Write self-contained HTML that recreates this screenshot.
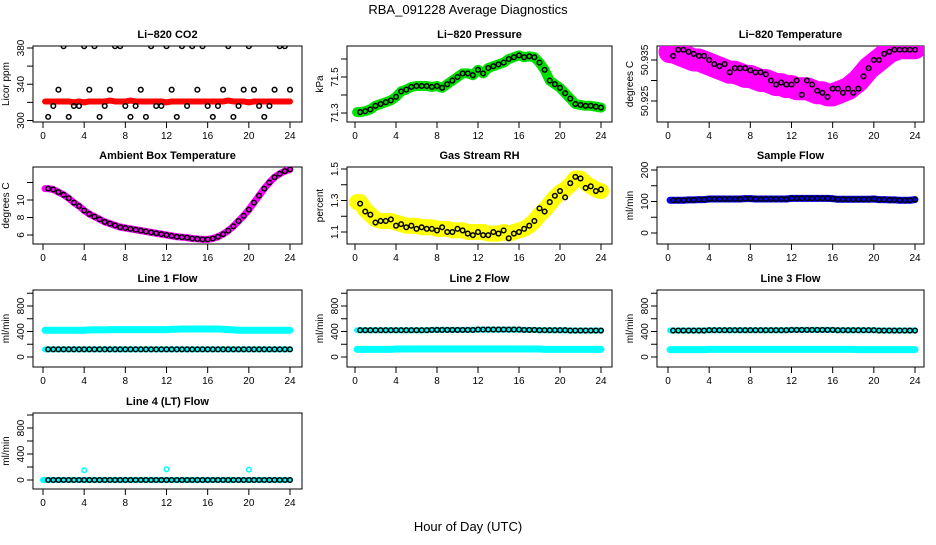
<!DOCTYPE html>
<html><head><meta charset="utf-8"><style>
body{margin:0;background:#fff}
svg text{font-family:"Liberation Sans",sans-serif;fill:#000}
</style></head><body>
<svg id="c" width="936" height="540" viewBox="0 0 936 540">
<text x="468" y="14" font-size="13" text-anchor="middle">RBA_091228  Average Diagnostics</text>
<text x="468" y="531" font-size="13" text-anchor="middle">Hour of Day (UTC)</text>
</svg>
<script>
const hours=[0.5,1,1.5,2,2.5,3,3.5,4,4.5,5,5.5,6,6.5,7,7.5,8,8.5,9,9.5,10,10.5,11,11.5,12,12.5,13,13.5,14,14.5,15,15.5,16,16.5,17,17.5,18,18.5,19,19.5,20,20.5,21,21.5,22,22.5,23,23.5,24];
const xTicks=[0,4,8,12,16,20,24];
const co2Black=[304,316,334,382,304,316,316,382,334,382,304,316,334,382,382,316,304,316,334,304,382,316,316,382,334,304,382,316,382,334,382,316,304,316,334,382,304,316,334,382,334,316,304,316,334,382,382,334];
const co2Band=[321,321,321,321,321,320,321,320,321,321,321,321,322,321,321,321,322,321,321,321,321,321,321,320,321,321,321,321,321,321,321,321,321,321,321,322,321,321,321,320,321,321,321,321,321,321,321,321];
const presBlack=[71.305,71.31,71.32,71.34,71.35,71.36,71.37,71.39,71.42,71.43,71.445,71.45,71.45,71.45,71.445,71.45,71.44,71.46,71.48,71.50,71.52,71.52,71.51,71.54,71.52,71.55,71.56,71.57,71.58,71.60,71.61,71.62,71.61,71.615,71.61,71.58,71.54,71.48,71.46,71.44,71.41,71.38,71.35,71.345,71.34,71.34,71.335,71.33];
const tempBlack=[50.936,50.9375,50.9375,50.937,50.9365,50.936,50.936,50.935,50.934,50.9335,50.934,50.932,50.933,50.933,50.933,50.9325,50.932,50.932,50.9315,50.930,50.929,50.9295,50.929,50.929,50.930,50.9265,50.930,50.929,50.9275,50.927,50.926,50.928,50.928,50.927,50.928,50.927,50.928,50.931,50.933,50.935,50.935,50.9365,50.937,50.9375,50.9375,50.9375,50.9375,50.9375];
const tempBand=[50.937,50.9365,50.936,50.9355,50.935,50.935,50.9345,50.934,50.9335,50.933,50.9325,50.932,50.932,50.9315,50.931,50.931,50.9305,50.930,50.930,50.9295,50.929,50.929,50.9285,50.9285,50.928,50.928,50.928,50.9275,50.927,50.927,50.9265,50.9265,50.927,50.9275,50.928,50.929,50.930,50.9315,50.933,50.934,50.935,50.936,50.937,50.9375,50.938,50.938,50.938,50.938];
const ambBlack=[11.3,11.2,10.9,10.6,10.2,9.7,9.3,8.8,8.4,8.1,7.8,7.5,7.3,7.1,6.9,6.8,6.7,6.6,6.5,6.4,6.3,6.2,6.1,6.0,5.9,5.8,5.75,5.7,5.6,5.55,5.5,5.5,5.6,5.8,6.1,6.5,7.0,7.6,8.2,8.9,9.7,10.5,11.3,12.0,12.6,13.0,13.3,13.5];
const rhBlack=[1.28,1.23,1.21,1.16,1.17,1.17,1.18,1.14,1.15,1.13,1.14,1.12,1.13,1.12,1.12,1.11,1.13,1.10,1.10,1.12,1.11,1.09,1.08,1.10,1.08,1.08,1.10,1.09,1.11,1.06,1.09,1.10,1.12,1.14,1.17,1.25,1.23,1.29,1.33,1.36,1.32,1.41,1.45,1.44,1.38,1.39,1.36,1.37];
const rhBand=[1.29,1.24,1.21,1.18,1.17,1.17,1.17,1.16,1.15,1.14,1.14,1.14,1.13,1.13,1.13,1.12,1.12,1.12,1.11,1.11,1.11,1.10,1.10,1.10,1.10,1.09,1.09,1.09,1.10,1.09,1.10,1.11,1.12,1.14,1.17,1.21,1.24,1.28,1.32,1.35,1.37,1.40,1.44,1.44,1.41,1.39,1.37,1.36];
const sampleBlack=[104,104,104,105,105,106,106,108,108,108,108,108,108,108,109,109,108,108,108,108,108,108,108,110,110,110,110,110,110,110,110,109,107,107,107,107,107,107,107,108,106,106,105,105,104,104,104,106];
const line1Cyan=[420,420,420,420,420,420,420,420,425,425,425,425,430,430,430,430,430,430,430,430,430,430,430,430,435,435,440,440,440,440,440,440,440,440,435,430,425,420,420,420,420,420,420,420,420,420,420,420];
const line1Black=[120,120,120,120,120,120,120,120,120,120,120,120,120,120,120,120,120,120,120,120,120,120,120,120,120,120,120,120,120,120,120,120,120,120,120,120,120,120,120,120,120,120,120,120,120,120,120,120];
const line2Black=[420,420,420,420,420,420,420,420,420,420,420,420,420,420,425,425,425,425,425,425,425,425,425,430,430,430,430,430,430,430,430,430,425,425,425,420,420,420,420,420,420,415,415,415,415,415,415,415];
const line2Cyan=[120,120,120,120,120,120,120,125,125,125,125,125,125,125,125,125,125,125,125,125,125,125,125,125,125,125,125,125,125,125,125,125,125,125,125,125,120,120,120,120,120,120,120,120,120,120,120,120];
const line3Black=[415,415,415,415,415,415,415,420,420,420,420,420,420,420,420,420,420,420,420,420,420,420,420,425,425,425,425,425,425,425,425,425,420,420,420,420,420,420,420,420,415,415,415,415,415,415,415,415];
const line3Cyan=[115,115,115,115,115,115,115,120,120,120,120,120,120,120,120,120,120,120,120,120,120,120,120,120,120,120,120,120,120,120,120,120,120,120,120,120,115,115,115,115,115,115,115,115,115,115,115,115];
const line4Black=[0,0,0,0,0,0,0,0,0,0,0,0,0,0,0,0,0,0,0,0,0,0,0,0,0,0,0,0,0,0,0,0,0,0,0,0,0,0,0,0,0,0,0,0,0,0,0,0];
const line4OutlierHours=[4,12,20];
const line4Outliers=[150,165,160];
const NS='http://www.w3.org/2000/svg';
const svg=document.getElementById('c');
const cols=[{l:33,r:302,x0:43,x24:290},{l:347,r:612,x0:355,x24:601},{l:657,r:924,x0:668,x24:915}];
const rows=[{t:46,b:122},{t:167,b:244},{t:290,b:367},{t:413,b:489}];
function mk(tag,attrs,parent){const e=document.createElementNS(NS,tag);for(const k in attrs)e.setAttribute(k,attrs[k]);(parent||svg).appendChild(e);return e;}
function panel(c,r,o){
  const C=cols[c],R=rows[r];
  const g=mk('g',{});
  
  
  const xs=h=>C.x0+(C.x24-C.x0)*h/24;
  const ys=v=>o.py0+(o.py1-o.py0)*(v-o.v0)/(o.v1-o.v0);
  const clipId='clip'+c+r;
  const cp=mk('clipPath',{id:clipId},g);mk('rect',{x:C.l,y:R.t,width:C.r-C.l,height:R.b-R.t},cp);
  const box=mk('rect',{x:C.l,y:R.t,width:C.r-C.l,height:R.b-R.t,fill:'none',stroke:'#000','stroke-width':1},g);
  
  
  const t=mk('text',{x:(C.l+C.r)/2,y:R.t-8,'font-size':11,'font-weight':'bold','text-anchor':'middle'},g);t.textContent=o.title;
  
  
  xTicks.forEach(h=>{mk('line',{x1:xs(h),x2:xs(h),y1:R.b,y2:R.b+6,stroke:'#000'},g);
    const tl=mk('text',{x:xs(h),y:R.b+17,'font-size':10,'text-anchor':'middle'},g);tl.textContent=h;
    
    });
  o.yt.forEach((v,i)=>{const y=ys(v);mk('line',{x1:C.l-6,x2:C.l,y1:y,y2:y,stroke:'#000'},g);
    if(o.yl[i]){const tl=mk('text',{x:C.l-9,y:y,'font-size':10,'text-anchor':'middle',transform:`rotate(-90 ${C.l-9} ${y})`},g);tl.textContent=o.yl[i];
    
    }});
  const yc=(R.t+R.b)/2,yx=C.l-24;
  const yt=mk('text',{x:yx,y:yc,'font-size':10,'text-anchor':'middle',transform:`rotate(-90 ${yx} ${yc})`},g);yt.textContent=o.ylab;
  
  
  const pg=mk('g',{'clip-path':`url(#${clipId})`},g);
  (o.bands||[]).forEach(b=>{
    const pts=[[b.start!=null?b.start:0.2,b.vals[0]]].concat(hours.map((h,i)=>[h,b.vals[i]]));
    const pl=mk('polyline',{points:pts.map(p=>xs(p[0])+','+ys(p[1])).join(' '),fill:'none',stroke:b.color,'stroke-width':b.w,'stroke-linejoin':'round','stroke-linecap':'round'},pg);
    
    
  });
  (o.pts||[]).forEach(s=>{(s.hrs||hours).forEach((h,i)=>{
    const ci=mk('circle',{cx:xs(h),cy:ys(s.vals[i]),r:2.3,fill:'none',stroke:s.color,'stroke-width':1.5},pg);
    
    });});
}
const flowT=[0,200,400,600,800,1000],flowL=['0','','400','','800',''];
panel(0,0,{name:'co2-panel',title:'Li\u2212820 CO2',ylab:'Licor ppm',v0:300,v1:380,py0:120.5,py1:48,yt:[300,320,340,360,380],yl:['300','','340','','380'],bands:[{vals:co2Band,color:'#f00',w:6}],pts:[{vals:co2Black,color:'#000'}]});
panel(1,0,{name:'pressure-panel',title:'Li\u2212820 Pressure',ylab:'kPa',v0:71.3,v1:71.5,py0:113,py1:77,yt:[71.3,71.4,71.5,71.6],yl:['71.3','','71.5',''],bands:[{vals:presBlack,color:'#00e000',w:10,start:0.2}],pts:[{vals:presBlack,color:'#000'}]});
panel(2,0,{name:'temperature-panel',title:'Li\u2212820 Temperature',ylab:'degrees C',v0:50.925,v1:50.935,py0:101,py1:60,yt:[50.925,50.93,50.935],yl:['50.925','','50.935'],bands:[{vals:tempBand,color:'#ff00ff',w:23}],pts:[{vals:tempBlack,color:'#000'}]});
panel(0,1,{name:'ambient-temperature-panel',title:'Ambient Box Temperature',ylab:'degrees C',v0:6,v1:10,py0:235,py1:200,yt:[6,8,10,12],yl:['6','8','10',''],bands:[{vals:ambBlack,color:'#ff00ff',w:7}],pts:[{vals:ambBlack,color:'#000'}]});
panel(1,1,{name:'gas-rh-panel',title:'Gas Stream RH',ylab:'percent',v0:1.1,v1:1.5,py0:232,py1:169,yt:[1.1,1.2,1.3,1.4,1.5],yl:['1.1','','1.3','','1.5'],bands:[{vals:rhBand,color:'#ffff00',w:16}],pts:[{vals:rhBlack,color:'#000'}]});
panel(2,1,{name:'sample-flow-panel',title:'Sample Flow',ylab:'ml/min',v0:0,v1:200,py0:233,py1:170,yt:[0,50,100,150,200],yl:['0','','100','','200'],bands:[{vals:sampleBlack,color:'#0000ff',w:7}],pts:[{vals:sampleBlack,color:'#000'}]});
panel(0,2,{name:'line1-flow-panel',title:'Line 1 Flow',ylab:'ml/min',v0:0,v1:800,py0:357,py1:306,yt:flowT,yl:flowL,bands:[{vals:line1Cyan,color:'#00ffff',w:7},{vals:line1Black,color:'#00ffff',w:6}],pts:[{vals:line1Black,color:'#000'}]});
panel(1,2,{name:'line2-flow-panel',title:'Line 2 Flow',ylab:'ml/min',v0:0,v1:800,py0:357,py1:306,yt:flowT,yl:flowL,bands:[{vals:line2Black,color:'#00ffff',w:6},{vals:line2Cyan,color:'#00ffff',w:7}],pts:[{vals:line2Black,color:'#000'}]});
panel(2,2,{name:'line3-flow-panel',title:'Line 3 Flow',ylab:'ml/min',v0:0,v1:800,py0:357,py1:306,yt:flowT,yl:flowL,bands:[{vals:line3Black,color:'#00ffff',w:6},{vals:line3Cyan,color:'#00ffff',w:7}],pts:[{vals:line3Black,color:'#000'}]});
panel(0,3,{name:'line4-flow-panel',title:'Line 4 (LT) Flow',ylab:'ml/min',v0:0,v1:800,py0:480,py1:428,yt:flowT,yl:flowL,bands:[{vals:line4Black,color:'#00ffff',w:6,start:0}],pts:[{vals:line4Black,color:'#000'},{vals:line4Outliers,hrs:line4OutlierHours,color:'#00ffff'}]});
</script>
</body></html>
